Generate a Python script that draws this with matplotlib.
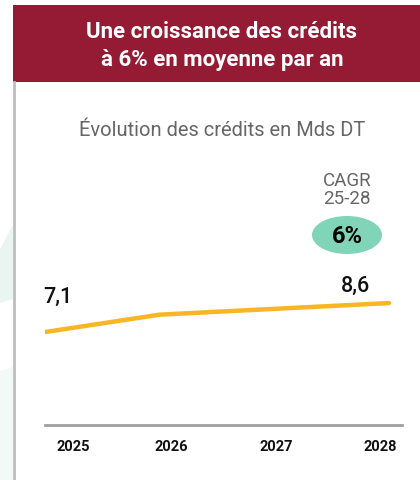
import matplotlib
matplotlib.use('Agg')
import matplotlib.pyplot as plt
from matplotlib.patches import Rectangle, Ellipse, Polygon
from matplotlib.transforms import ScaledTranslation

years = ['2025', '2026', '2027', '2028']
credits = [7.1, 8.0, 8.3, 8.6]
first_label = '7,1'
last_label = '8,6'
cagr_label = 'CAGR\n25-28'
cagr_value = '6%'
banner = 'Une croissance des crédits\nà 6% en moyenne par an'
subtitle = 'Évolution des crédits en Mds DT'

plt.rcParams['font.family'] = ['Roboto', 'DejaVu Sans']

W, H = 420, 481
fig = plt.figure(figsize=(W / 100, H / 100), dpi=100)
fig.patch.set_facecolor('white')

# background layer in pixel coordinates
bg = fig.add_axes([0, 0, 1, 1])
bg.set_xlim(0, W)
bg.set_ylim(H, 0)
bg.axis('off')
bg.add_patch(Polygon([(0, 250), (13, 226), (13, 300), (0, 304)], closed=True,
                     facecolor='#eaf5f1', edgecolor='none'))
bg.add_patch(Polygon([(0, 372), (13, 368), (13, 481), (0, 481)], closed=True,
                     facecolor='#f3f9f7', edgecolor='none'))
bg.add_patch(Rectangle((13, 6), W - 13, 77, facecolor='#951b34', edgecolor='none'))
bg.plot([14, 14], [83, H], color='#bdbdbd', lw=2)
bg.text(222, 46, banner, color='white', fontsize=16, fontweight='bold',
        ha='center', va='center', linespacing=1.3)
bg.text(222, 131, subtitle, color='#666666', fontsize=14.5, ha='center', va='center')
bg.text(347, 190, cagr_label, color='#666666', fontsize=13.5, ha='center', va='center',
        linespacing=0.95)
bg.add_patch(Ellipse((347, 236), 70, 38, facecolor='#80d4b8', edgecolor='none'))
bg.text(347, 237, cagr_value, color='black', fontsize=17, fontweight='bold',
        ha='center', va='center')

# line chart
x = list(range(len(years)))
ax = fig.add_axes([45 / W, (H - 426) / H, (402 - 45) / W, (426 - 260) / H])
ax.patch.set_alpha(0)
ax.plot(x, credits, color='#f8b524', lw=3.2, solid_capstyle='round')
ax.set_xlim(0, 3.113)
ax.set_ylim(2.29, 10.88)
for s in ['top', 'right', 'left']:
    ax.spines[s].set_visible(False)
ax.spines['bottom'].set_color('#a0a0a0')
ax.spines['bottom'].set_linewidth(2)
ax.set_yticks([])
ax.set_xticks(x)
ax.set_xticklabels(years, fontsize=10.5, fontweight='bold', color='#111111')
ax.tick_params(axis='x', length=0, pad=10)
shifts = [28, 12, 2, -9]
for lab, dx in zip(ax.get_xticklabels(), shifts):
    lab.set_transform(lab.get_transform() + ScaledTranslation(dx / 100, 0, fig.dpi_scale_trans))

ax.annotate(first_label, (x[0], credits[0]), xytext=(13, 36), textcoords='offset pixels',
            ha='center', va='center', fontsize=15.5, fontweight='medium', color='#111111')
ax.annotate(last_label, (x[-1], credits[-1]), xytext=(-34, 18), textcoords='offset pixels',
            ha='center', va='center', fontsize=15.5, fontweight='medium', color='#111111')

fig.savefig('out.png', dpi=100)
